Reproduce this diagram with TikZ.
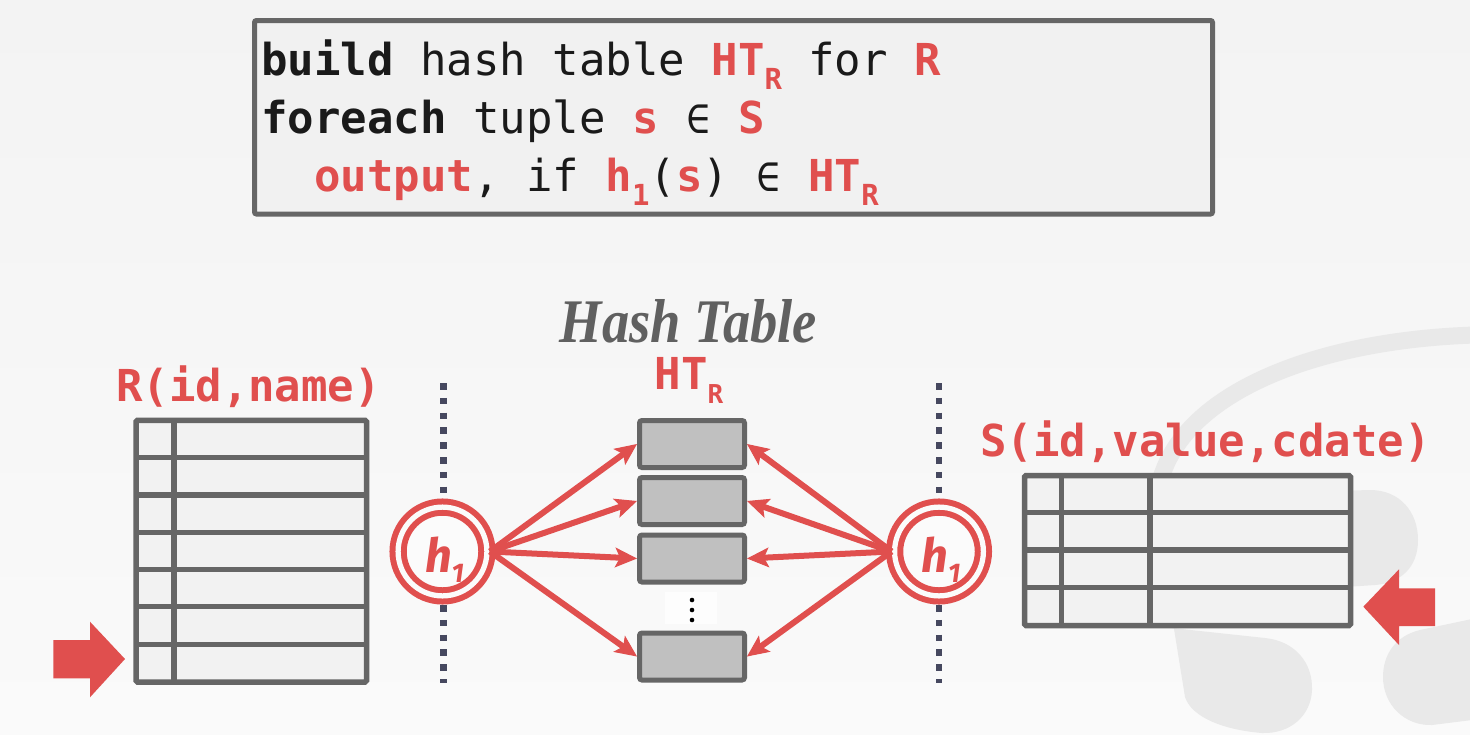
\documentclass[tikz,border=0pt]{standalone}
\usepackage{fontspec}
\usetikzlibrary{arrows.meta,calc}
\newfontfamily\codefont{DejaVu Sans Mono}
\newfontfamily\hfont{Fira Sans}
\newfontfamily\titlefont{Liberation Serif}
\definecolor{myred}{HTML}{E04F4E}
\definecolor{edgegray}{HTML}{666666}
\definecolor{cellfill}{HTML}{F2F2F2}
\definecolor{codefill}{HTML}{F1F1F1}
\definecolor{bucketfill}{HTML}{C0C0C0}
\definecolor{dotcol}{HTML}{46485F}
\definecolor{logogray}{HTML}{E9E9E9}
\definecolor{txtblack}{HTML}{1A1A1A}
\definecolor{titlegray}{HTML}{606060}
\definecolor{bgtop}{HTML}{F3F3F3}
\definecolor{bgbot}{HTML}{FAFAFA}
\definecolor{ringfill}{HTML}{FBFBFB}
\definecolor{patch}{HTML}{FDFDFD}
\newcommand{\subA}[1]{\raisebox{-14pt}{\fontsize{29}{29}\selectfont #1}}
\newcommand{\subB}[1]{\raisebox{-14pt}{\fontsize{26}{26}\selectfont #1}}
\newcommand{\subH}[1]{\raisebox{-10pt}{\fontsize{27}{27}\selectfont #1}}
\newcommand{\elemof}{\makebox[26.49pt]{\fontsize{40}{40}\selectfont ∈}}
\tikzset{
  codebox/.style={rectangle, draw=edgegray, fill=codefill, line width=5pt, rounded corners=2pt, inner sep=0pt, minimum width=958pt, minimum height=193.5pt},
  codeline/.style={anchor=base west, inner sep=0pt, font=\codefont\fontsize{44}{50}\selectfont, text=txtblack},
  lbl/.style={anchor=base, inner sep=0pt, font=\codefont\bfseries\fontsize{44}{50}\selectfont, text=myred},
  hcirc/.style={circle, draw=myred, line width=6pt, double=ringfill, double distance=5.25pt, fill=ringfill, minimum size=88.8pt, inner sep=0pt, outer sep=3pt},
  htext/.style={anchor=base, inner sep=0pt, font=\hfont\bfseries\itshape\fontsize{47}{50}\selectfont, text=myred},
  bucket/.style={rectangle, draw=edgegray, fill=bucketfill, line width=5pt, minimum width=105pt, minimum height=47pt, inner sep=0pt, rounded corners=2.5pt},
  harrow/.style={draw=myred, line width=6pt, -{Stealth[length=22pt,width=20pt,inset=5pt,line width=1pt]}},
  dotline/.style={draw=dotcol, line width=6.5pt, dash pattern=on 6.5pt off 8.3pt},
  tbl/.style={draw=edgegray, fill=cellfill, line width=5.5pt, rounded corners=1.5pt},
  tline/.style={draw=edgegray, line width=5.5pt},
  blockarrow/.style={fill=myred},
}
\begin{document}
\begin{tikzpicture}[x=1pt,y=-1pt]
\useasboundingbox (0,0) rectangle (1470,734);
% background
\shade[top color=bgtop, bottom color=bgbot] (0,0) rectangle (1470,734);
% logo
\draw[logogray, line width=17pt] (1475,335) .. controls (1320,340) and (1190,390) .. (1162,475);
\fill[logogray] (1155,470) -- (1172,628) -- (1265,638) .. controls (1295,641) and (1313,663) .. (1312,690) .. controls (1311,716) and (1290,734) .. (1262,733) .. controls (1225,730) and (1192,718) .. (1185,697) -- (1150,480) -- cycle;
\fill[logogray] (1300,492) -- (1370,490) .. controls (1400,490) and (1418,512) .. (1418,540) .. controls (1418,568) and (1400,583) .. (1375,585) -- (1300,590) -- cycle;
\fill[logogray] (1472,619) -- (1420,630) .. controls (1395,636) and (1383,655) .. (1383,677) .. controls (1383,705) and (1405,726) .. (1432,725) -- (1472,720) -- cycle;
% code box
\node[codebox] (code) at (733.5,117.25) {};
\node[codeline] (l1) at (261,75) {{\bfseries build} hash table {\color{myred}\bfseries HT\subA{R}} for {\color{myred}\bfseries R}};
\node[codeline] (l2) at (261,133) {{\bfseries foreach} tuple {\color{myred}\bfseries s} \elemof{} {\color{myred}\bfseries S}};
\node[codeline] (l3) at (314,191) {{\color{myred}\bfseries output}, if {\color{myred}\bfseries h\subA{1}}({\color{myred}\bfseries s}) \elemof{} {\color{myred}\bfseries HT\subA{R}}};
% titles
\node[anchor=base, inner sep=0pt, text=titlegray] (title) at (688.5,342) {\scalebox{0.88}[1]{\titlefont\bfseries\itshape\fontsize{62}{70}\selectfont Hash Table}};
\node[lbl] (htlabel) at (689,389) {HT\subB{R}};
\node[lbl] (rlabel) at (248.5,401.7) {R(id,name)};
\node[lbl] (slabel) at (1205.5,456.7) {S(id,value,cdate)};
% dotted separators
\coordinate (dLt) at (443.5,383); \coordinate (dLb) at (443.5,683);
\coordinate (dRt) at (939,383); \coordinate (dRb) at (939,683);
\draw[dotline] (dLt) -- (dLb);
\draw[dotline] (dRt) -- (dRb);
% left table R
\draw[tbl] (136,420.3) rectangle (366.5,682);
\foreach \yy in {457.3,495,532.3,569.3,606.7,644.3} {\draw[tline] (136,\yy) -- (366.5,\yy);}
\draw[tline] (174,420.3) -- (174,682);
% right table S
\draw[tbl] (1024.5,475.5) rectangle (1350.5,625.5);
\foreach \yy in {512.3,550,587.3} {\draw[tline] (1024.5,\yy) -- (1350.5,\yy);}
\draw[tline] (1061.7,475.5) -- (1061.7,625.5);
\draw[tline] (1150,475.5) -- (1150,625.5);
% block arrows
\fill[blockarrow] (53.3,640) -- (90,640) -- (90,621.7) -- (125,659) -- (90,697.3) -- (90,678.3) -- (53.3,678.3) -- cycle;
\fill[blockarrow] (1435,588.3) -- (1399,588.3) -- (1399,569.3) -- (1363.3,606.7) -- (1399,645) -- (1399,626) -- (1435,626) -- cycle;
% hash functions
\node[hcirc] (hL) at (442.5,551.5) {};
\node[hcirc] (hR) at (939,551.5) {};
\node[htext, xshift=2pt, yshift=-20.5pt] (hLt) at (hL.center) {h\subH{1}};
\node[htext, xshift=2pt, yshift=-20.5pt] (hRt) at (hR.center) {h\subH{1}};
% buckets
\node[bucket] (b1) at (692,444) {};
\node[bucket] (b2) at (692,501) {};
\node[bucket] (b3) at (692,558.5) {};
\node[bucket] (b4) at (692,656.5) {};
\fill[patch] (665,592) rectangle (717,624);
\foreach \yy in {600,610,620} {\fill[black] (692,\yy) circle (2.3pt);}
% arrows
\foreach \b in {b1,b2,b3,b4} {
  \draw[harrow] (hL.east) -- (\b.west);
  \draw[harrow] (hR.west) -- (\b.east);
}
\end{tikzpicture}
\end{document}
